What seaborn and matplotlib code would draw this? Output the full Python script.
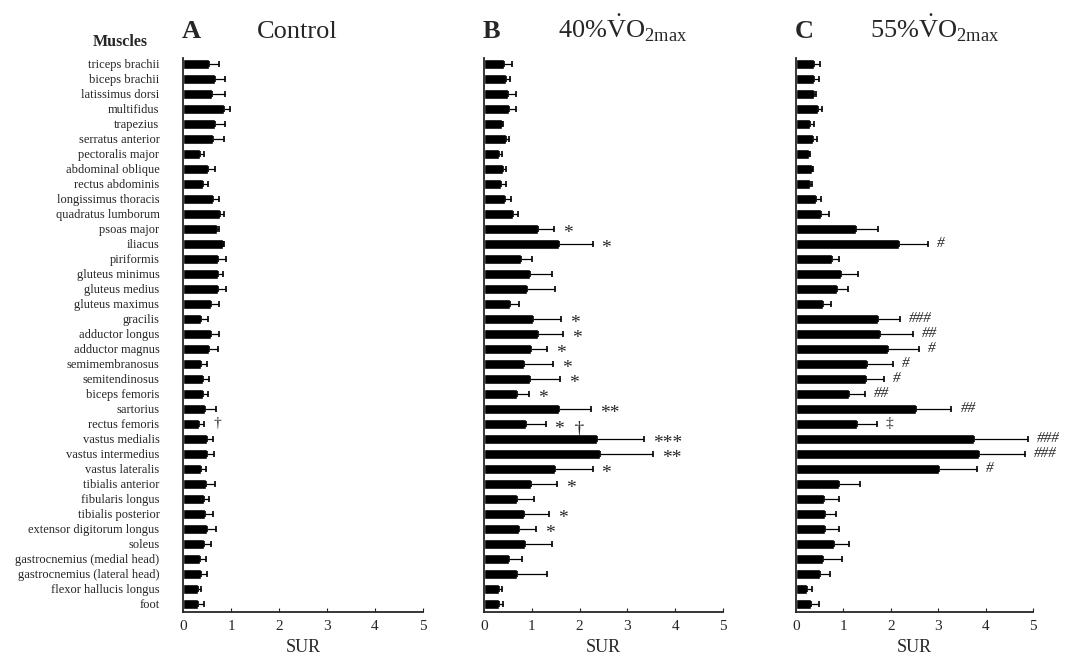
import numpy as np
import pandas as pd
import matplotlib
matplotlib.use('Agg')
import matplotlib.pyplot as plt
import seaborn as sns

muscles = ['triceps brachii', 'biceps brachii', 'latissimus dorsi', 'multifidus', 'trapezius',
           'serratus anterior', 'pectoralis major', 'abdominal oblique', 'rectus abdominis',
           'longissimus thoracis', 'quadratus lumborum', 'psoas major', 'iliacus', 'piriformis',
           'gluteus minimus', 'gluteus medius', 'gluteus maximus', 'gracilis', 'adductor longus',
           'adductor magnus', 'semimembranosus', 'semitendinosus', 'biceps femoris', 'sartorius',
           'rectus femoris', 'vastus medialis', 'vastus intermedius', 'vastus lateralis',
           'tibialis anterior', 'fibularis longus', 'tibialis posterior', 'extensor digitorum longus',
           'soleus', 'gastrocnemius (medial head)', 'gastrocnemius (lateral head)',
           'flexor hallucis longus', 'foot']

control_mean = [0.54, 0.67, 0.60, 0.85, 0.67, 0.63, 0.35, 0.52, 0.41, 0.62, 0.77, 0.70, 0.83, 0.72,
                0.72, 0.73, 0.58, 0.375, 0.58, 0.55, 0.37, 0.42, 0.41, 0.45, 0.33, 0.51, 0.51, 0.37,
                0.47, 0.44, 0.46, 0.49, 0.44, 0.35, 0.37, 0.31, 0.31]
control_sd = [0.22, 0.205, 0.275, 0.12, 0.20, 0.22, 0.09, 0.14, 0.11, 0.14, 0.08, 0.06, 0.02, 0.18,
              0.12, 0.17, 0.18, 0.145, 0.18, 0.17, 0.14, 0.12, 0.12, 0.24, 0.11, 0.11, 0.14, 0.10,
              0.19, 0.10, 0.16, 0.20, 0.14, 0.12, 0.14, 0.07, 0.13]

vo40_mean = [0.42, 0.47, 0.51, 0.53, 0.38, 0.45, 0.31, 0.39, 0.36, 0.43, 0.61, 1.12, 1.56, 0.77,
             0.97, 0.89, 0.54, 1.03, 1.14, 0.98, 0.84, 0.96, 0.68, 1.56, 0.87, 2.36, 2.43, 1.49,
             0.98, 0.70, 0.84, 0.74, 0.86, 0.53, 0.70, 0.31, 0.32]
vo40_sd = [0.16, 0.08, 0.15, 0.13, 0.02, 0.08, 0.06, 0.08, 0.11, 0.13, 0.11, 0.34, 0.71, 0.23,
           0.46, 0.60, 0.19, 0.59, 0.52, 0.34, 0.60, 0.64, 0.27, 0.68, 0.43, 0.99, 1.11, 0.78,
           0.54, 0.35, 0.53, 0.34, 0.57, 0.27, 0.62, 0.06, 0.08]

vo55_mean = [0.39, 0.39, 0.37, 0.47, 0.30, 0.35, 0.28, 0.34, 0.30, 0.43, 0.53, 1.26, 2.18, 0.77,
             0.95, 0.86, 0.58, 1.72, 1.78, 1.94, 1.49, 1.47, 1.12, 2.53, 1.28, 3.75, 3.86, 3.01,
             0.91, 0.60, 0.62, 0.62, 0.80, 0.58, 0.50, 0.24, 0.32]
vo55_sd = [0.11, 0.09, 0.05, 0.08, 0.07, 0.09, 0.01, 0.01, 0.04, 0.10, 0.17, 0.47, 0.61, 0.13,
           0.36, 0.24, 0.16, 0.47, 0.69, 0.66, 0.55, 0.39, 0.33, 0.75, 0.42, 1.14, 0.97, 0.81,
           0.44, 0.31, 0.22, 0.29, 0.32, 0.38, 0.22, 0.09, 0.17]

# significance marks: (row, label)
control_marks = [(24, '\u2020')]
vo40_marks = [(11, '*'), (12, '*'), (17, '*'), (18, '*'), (19, '*'), (20, '*'), (21, '*'),
              (22, '*'), (23, '**'), (24, '*  \u2020'), (25, '***'), (26, '**'), (27, '*'),
              (28, '*'), (30, '*'), (31, '*')]
vo55_marks = [(12, '#'), (17, '###'), (18, '##'), (19, '#'), (20, '#'), (21, '#'), (22, '##'),
              (23, '##'), (24, '\u2021'), (25, '###'), (26, '###'), (27, '#')]

sns.set_style('ticks')
plt.rcParams['font.family'] = ['Liberation Serif', 'DejaVu Serif']
plt.rcParams['mathtext.fontset'] = 'custom'
plt.rcParams['mathtext.rm'] = 'Liberation Serif'

fig = plt.figure(figsize=(10.67, 6.61), dpi=100)
W, H = 1067, 661
panels = [
    ('A', 'Control', control_mean, control_sd, control_marks, 183, 240),
    ('B', r'40%$\dot{\mathrm{V}}\mathrm{O}_{\mathrm{2max}}$', vo40_mean, vo40_sd, vo40_marks, 484, 239),
    ('C', r'55%$\dot{\mathrm{V}}\mathrm{O}_{\mathrm{2max}}$', vo55_mean, vo55_sd, vo55_marks, 796, 237),
]

for i, (letter, title, mean, sd, marks, left, width) in enumerate(panels):
    ax = fig.add_axes([left / W, 1 - 612 / H, width / W, (612 - 58) / H])
    df = pd.DataFrame({'Muscle': muscles, 'SUR': mean, 'SD': sd})
    sns.barplot(data=df, x='SUR', y='Muscle', order=muscles, color='black', saturation=1,
                width=0.68, errorbar=None, orient='h', ax=ax)
    ax.errorbar(df['SUR'], np.arange(len(muscles)), xerr=[np.zeros(len(sd)), df['SD']],
                fmt='none', ecolor='black', elinewidth=0.9, capsize=2, capthick=1.2)
    for row, lab in marks:
        star = '*' in lab
        ax.annotate(lab, (mean[row] + sd[row], row), xytext=(9, -5 if star else 0),
                    textcoords='offset pixels', ha='left', va='center',
                    fontsize=14 if star else 11, style='italic' if '#' in lab else 'normal',
                    annotation_clip=False)
    ax.set_xlim(0, 5)
    ax.set_ylim(len(muscles) - 0.45, -0.4)
    ax.set_xticks(range(6))
    ax.tick_params(axis='x', direction='in', length=3, labelsize=11, pad=6)
    ax.tick_params(axis='y', direction='in', length=2, labelsize=9, pad=17)
    sns.despine(ax=ax)
    for s in ['left', 'bottom']:
        ax.spines[s].set_linewidth(1.3)
    ax.set_xlabel('SUR', fontsize=13, labelpad=4)
    ax.set_ylabel('')
    if i > 0:
        ax.set_yticklabels([])
    fig.text((left - 1) / W, 1 - 38 / H, letter, fontsize=19, fontweight='bold', ha='left', va='baseline')
    fig.text((left + 74) / W, 1 - 38 / H, title, fontsize=19, ha='left', va='baseline')

fig.text(120 / W, 1 - 46 / H, 'Muscles', fontsize=11.5, fontweight='bold', ha='center', va='baseline')

fig.savefig('out.png', dpi=100)
